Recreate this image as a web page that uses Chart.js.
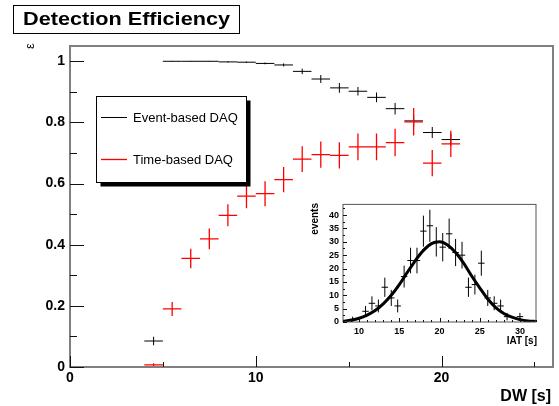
<!DOCTYPE html>
<html>
<head>
<meta charset="utf-8">
<script src="https://cdn.jsdelivr.net/npm/chart.js@4.4.1/dist/chart.umd.min.js"></script>
<style>
html, body { margin: 0; padding: 0; background: #fff; }
#wrap { position: relative; width: 559px; height: 406px; overflow: hidden; }
#mainChart { position: absolute; left: 0; top: 0; }
#insetChart { position: absolute; left: 300px; top: 195px; }
</style>
</head>
<body>
<div id="wrap">
<canvas id="mainChart" width="559" height="406"></canvas>
<canvas id="insetChart" width="245" height="155"></canvas>
</div>
<script>
// ---------- data: main plot (efficiency vs DW)
var dwBins   = [4.5, 5.5, 6.5, 7.5, 8.5, 9.5, 10.5, 11.5, 12.5, 13.5, 14.5, 15.5, 16.5, 17.5, 18.5, 19.5, 20.5];
var eventEff = [0.085, 1.0, 1.0, 1.0, 0.998, 0.997, 0.993, 0.988, 0.967, 0.942, 0.913, 0.902, 0.882, 0.845, 0.805, 0.767, 0.744];
var eventErr = [0.014, 0.001, 0.001, 0.001, 0.002, 0.002, 0.003, 0.005, 0.009, 0.013, 0.016, 0.014, 0.016, 0.019, 0.02, 0.018, 0.02];
var timeEff  = [0.007, 0.19, 0.355, 0.419, 0.496, 0.559, 0.567, 0.613, 0.680, 0.695, 0.692, 0.72, 0.72, 0.734, 0.802, 0.667, 0.730];
var timeErr  = [0.005, 0.023, 0.032, 0.034, 0.036, 0.04, 0.041, 0.041, 0.042, 0.043, 0.043, 0.044, 0.044, 0.045, 0.045, 0.043, 0.043];

var mainXTicks = [0, 10, 20];
var mainXMinor = [5, 15, 25];
var mainYTicks = [0, 0.2, 0.4, 0.6, 0.8, 1];
var mainYMinor = [0.1, 0.3, 0.5, 0.7, 0.9];

// ---------- data: inset (IAT histogram + fit)
var iatBins   = [9.2, 10.8, 11.6, 12.4, 13.2, 14.0, 14.8, 15.6, 16.4, 17.2, 18.0, 18.8, 19.6, 20.4, 21.2, 22.0, 22.8, 23.6, 24.4, 25.2, 26.0, 26.8, 27.6, 28.4, 30.0];
var iatCounts = [1, 4, 7, 6, 13, 9, 6, 17, 23, 23, 34, 36, 30, 28, 33, 26, 25, 13, 14, 22, 9, 7, 6, 2, 2];
var iatErr    = [1, 2, 2.6, 2.4, 3.6, 3, 2.4, 4.1, 4.8, 4.8, 5.8, 6, 5.5, 5.3, 5.7, 5.1, 5, 3.6, 3.7, 4.7, 3, 2.6, 2.4, 1.4, 1.4];
var fitX = [8, 9, 10, 11, 12, 13, 14, 15, 16, 17, 18, 19, 20, 21, 22, 23, 24, 25, 26, 27, 28, 29, 30, 31, 32];
var fitY = [0.3, 0.7, 1.4, 2.6, 4.3, 6.8, 10, 14, 18.6, 23, 26.8, 29.3, 30, 28.8, 26, 22, 17.2, 12.8, 8.6, 5.4, 3.2, 1.8, 0.9, 0.4, 0.2];

var insetXTicks = [10, 15, 20, 25, 30];
var insetXMinor = [8, 9, 11, 12, 13, 14, 16, 17, 18, 19, 21, 22, 23, 24, 26, 27, 28, 29, 31, 32];
var insetYTicks = [0, 5, 10, 15, 20, 25, 30, 35, 40];
var insetYMinor = [2.5, 7.5, 12.5, 17.5, 22.5, 27.5, 32.5, 37.5, 42.5];

var FONT = "'Liberation Sans', Arial, Helvetica, sans-serif";

function toPoints(xs, ys) {
    return xs.map(function (x, i) { return { x: x, y: ys[i] }; });
}

// error bar crosses, drawn through the chart scales
var errorCross = {
    id: 'errorCross',
    afterDatasetsDraw: function (chart) {
        var ctx = chart.ctx, xs = chart.scales.x, ys = chart.scales.y;
        chart.data.datasets.forEach(function (ds) {
            if (!ds.errY) return;
            ctx.save();
            ctx.strokeStyle = ds.borderColor;
            ctx.lineWidth = ds.crossWidth || 1;
            ctx.beginPath();
            ds.data.forEach(function (p, i) {
                var px = xs.getPixelForValue(p.x), py = ys.getPixelForValue(p.y);
                ctx.moveTo(xs.getPixelForValue(p.x - ds.errX), py);
                ctx.lineTo(xs.getPixelForValue(p.x + ds.errX), py);
                ctx.moveTo(px, ys.getPixelForValue(Math.max(0, p.y - ds.errY[i])));
                ctx.lineTo(px, ys.getPixelForValue(p.y + ds.errY[i]));
            });
            ctx.stroke();
            ctx.restore();
        });
    }
};

// ROOT-like frame with ticks pointing inwards
var rootFrame = {
    id: 'rootFrame',
    beforeDraw: function (chart) {
        var a = chart.chartArea, ctx = chart.ctx;
        ctx.save();
        ctx.fillStyle = '#fff';
        ctx.fillRect(a.left, a.top, a.right - a.left, a.bottom - a.top);
        ctx.restore();
    },
    afterDraw: function (chart, args, o) {
        var ctx = chart.ctx, a = chart.chartArea, xs = chart.scales.x, ys = chart.scales.y;
        ctx.save();
        ctx.strokeStyle = o.frameColor;
        ctx.lineWidth = o.frameWidth;
        ctx.strokeRect(a.left, a.top, a.right - a.left, a.bottom - a.top);
        ctx.strokeStyle = '#111';
        ctx.lineWidth = 1;
        ctx.beginPath();
        function xt(vals, len) {
            vals.forEach(function (v) {
                var p = Math.round(xs.getPixelForValue(v)) + 0.5;
                ctx.moveTo(p, a.bottom);
                ctx.lineTo(p, a.bottom - len);
            });
        }
        function yt(vals, len) {
            vals.forEach(function (v) {
                var p = Math.round(ys.getPixelForValue(v)) + 0.5;
                ctx.moveTo(a.left, p);
                ctx.lineTo(a.left + len, p);
            });
        }
        xt(o.xMajor, o.xMajorLen);
        xt(o.xMinor, o.xMinorLen);
        yt(o.yMajor, o.yMajorLen);
        yt(o.yMinor, o.yMinorLen);
        ctx.stroke();
        ctx.restore();
    }
};

// title box, legend box and axis titles of the main pad
var mainDecor = {
    id: 'mainDecor',
    afterDraw: function (chart) {
        var ctx = chart.ctx;
        ctx.save();

        // title
        ctx.fillStyle = '#fff';
        ctx.fillRect(13.5, 5.5, 226, 28);
        ctx.strokeStyle = '#000';
        ctx.lineWidth = 1;
        ctx.strokeRect(13.5, 5.5, 226, 28);
        ctx.font = 'bold 18px ' + FONT;
        var tw = ctx.measureText('Detection Efficiency').width;
        ctx.save();
        ctx.translate(126.5, 20);
        ctx.scale(207 / tw, 1);
        ctx.fillStyle = '#000';
        ctx.textAlign = 'center';
        ctx.textBaseline = 'middle';
        ctx.fillText('Detection Efficiency', 0, 0);
        ctx.restore();

        // legend with shadow
        var lx = 96.5, ly = 96.5, lw = 150, lh = 86;
        ctx.fillStyle = '#000';
        ctx.fillRect(lx + 4, ly + 4, lw, lh);
        ctx.fillStyle = '#fff';
        ctx.fillRect(lx, ly, lw, lh);
        ctx.strokeStyle = '#000';
        ctx.strokeRect(lx, ly, lw, lh);
        var rows = [117.5, 159.5];
        ctx.font = '13px ' + FONT;
        ctx.textBaseline = 'middle';
        ctx.textAlign = 'left';
        chart.data.datasets.forEach(function (ds, i) {
            ctx.strokeStyle = ds.borderColor;
            ctx.lineWidth = ds.crossWidth;
            ctx.beginPath();
            ctx.moveTo(101, rows[i]);
            ctx.lineTo(127, rows[i]);
            ctx.stroke();
            ctx.fillStyle = '#000';
            ctx.fillText(ds.label, 133, rows[i] + 0.5);
        });

        // axis titles
        ctx.fillStyle = '#000';
        ctx.font = 'bold 16px ' + FONT;
        ctx.textAlign = 'right';
        ctx.textBaseline = 'alphabetic';
        ctx.fillText('DW [s]', 551, 401);

        ctx.save();
        ctx.translate(30, 46);
        ctx.rotate(-Math.PI / 2);
        ctx.font = '13px ' + FONT;
        ctx.textAlign = 'center';
        ctx.textBaseline = 'middle';
        ctx.fillText('\u03b5', 0, 0);
        ctx.restore();

        ctx.restore();
    }
};

var insetDecor = {
    id: 'insetDecor',
    afterDraw: function (chart) {
        var ctx = chart.ctx;
        ctx.save();
        ctx.fillStyle = '#000';
        ctx.font = 'bold 10px ' + FONT;
        ctx.textAlign = 'right';
        ctx.textBaseline = 'alphabetic';
        ctx.fillText('IAT [s]', 237, 148.5);
        ctx.translate(15, 8);
        ctx.rotate(-Math.PI / 2);
        ctx.textBaseline = 'middle';
        ctx.fillText('events', 0, 0);
        ctx.restore();
    }
};

function fixedTicks(values) {
    return function (scale) {
        scale.ticks = values.map(function (v) { return { value: v }; });
    };
}

new Chart(document.getElementById('mainChart').getContext('2d'), {
    type: 'scatter',
    data: {
        datasets: [
            {
                label: 'Event-based DAQ',
                data: toPoints(dwBins, eventEff),
                errY: eventErr,
                errX: 0.5,
                crossWidth: 1,
                borderColor: '#000000',
                pointRadius: 0,
                showLine: false
            },
            {
                label: 'Time-based DAQ',
                data: toPoints(dwBins, timeEff),
                errY: timeErr,
                errX: 0.5,
                crossWidth: 1.3,
                borderColor: '#ff0000',
                pointRadius: 0,
                showLine: false
            }
        ]
    },
    options: {
        responsive: false,
        animation: false,
        devicePixelRatio: 1,
        layout: { padding: { top: 46, right: 6, left: 0, bottom: 0 } },
        scales: {
            x: {
                type: 'linear',
                min: 0,
                max: 26,
                afterBuildTicks: fixedTicks(mainXTicks),
                afterFit: function (s) { s.height = 39; },
                grid: { display: false, drawTicks: false },
                border: { display: false },
                ticks: {
                    padding: 3,
                    color: '#000',
                    font: { family: FONT, size: 14, weight: 'bold' },
                    maxRotation: 0,
                    callback: function (v) { return String(v); }
                }
            },
            y: {
                type: 'linear',
                min: 0,
                max: 1.05,
                afterBuildTicks: fixedTicks(mainYTicks),
                afterFit: function (s) { s.width = 70; },
                grid: { display: false, drawTicks: false },
                border: { display: false },
                ticks: {
                    padding: 5,
                    color: '#000',
                    font: { family: FONT, size: 14, weight: 'bold' },
                    callback: function (v) { return String(Math.round(v * 10) / 10); }
                }
            }
        },
        plugins: {
            legend: { display: false },
            title: { display: false },
            tooltip: { enabled: false },
            rootFrame: {
                frameColor: '#808080', frameWidth: 2,
                xMajor: mainXTicks, xMinor: mainXMinor, xMajorLen: 11, xMinorLen: 5,
                yMajor: mainYTicks, yMinor: mainYMinor, yMajorLen: 14, yMinorLen: 7
            }
        }
    },
    plugins: [rootFrame, errorCross, mainDecor]
});

new Chart(document.getElementById('insetChart').getContext('2d'), {
    type: 'scatter',
    data: {
        datasets: [
            {
                label: 'IAT',
                data: toPoints(iatBins, iatCounts),
                errY: iatErr,
                errX: 0.4,
                crossWidth: 1,
                borderColor: '#000000',
                pointRadius: 0,
                showLine: false
            },
            {
                label: 'fit',
                data: toPoints(fitX, fitY),
                borderColor: '#000000',
                borderWidth: 3,
                pointRadius: 0,
                showLine: true,
                cubicInterpolationMode: 'monotone'
            }
        ]
    },
    options: {
        responsive: false,
        animation: false,
        devicePixelRatio: 1,
        layout: { padding: { top: 8, right: 9, left: 0, bottom: 0 } },
        scales: {
            x: {
                type: 'linear',
                min: 8,
                max: 32,
                afterBuildTicks: fixedTicks(insetXTicks),
                afterFit: function (s) { s.height = 28; },
                grid: { display: false, drawTicks: false },
                border: { display: false },
                ticks: {
                    padding: 4,
                    color: '#000',
                    font: { family: FONT, size: 9, weight: 'bold' },
                    maxRotation: 0,
                    callback: function (v) { return String(v); }
                }
            },
            y: {
                type: 'linear',
                min: 0,
                max: 44,
                afterBuildTicks: fixedTicks(insetYTicks),
                afterFit: function (s) { s.width = 43; },
                grid: { display: false, drawTicks: false },
                border: { display: false },
                ticks: {
                    padding: 4,
                    color: '#000',
                    font: { family: FONT, size: 9, weight: 'bold' },
                    callback: function (v) { return String(v); }
                }
            }
        },
        plugins: {
            legend: { display: false },
            title: { display: false },
            tooltip: { enabled: false },
            rootFrame: {
                frameColor: '#555555', frameWidth: 1,
                xMajor: insetXTicks, xMinor: insetXMinor, xMajorLen: 4, xMinorLen: 2,
                yMajor: insetYTicks, yMinor: insetYMinor, yMajorLen: 4, yMinorLen: 2
            }
        }
    },
    plugins: [rootFrame, errorCross, insetDecor]
});
</script>
</body>
</html>
